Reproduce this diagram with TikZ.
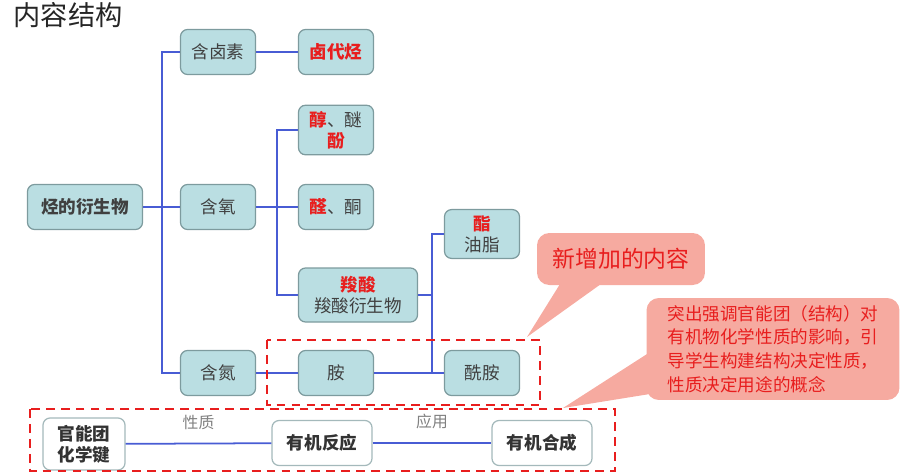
\documentclass[tikz,border=0pt]{standalone}
\usepackage{fontspec}
\setmainfont{Noto Sans CJK SC}
\usepackage{tikz}
\usetikzlibrary{positioning,calc}
\definecolor{boxTeal}  {RGB}{186, 222, 226}
\definecolor{boxEdge}  {RGB}{125, 155, 158}
\definecolor{linkBlue} {RGB}{ 72,  92, 212}
\definecolor{markRed}  {RGB}{232,  30,  30}
\definecolor{noteFill} {RGB}{246, 170, 160}
\newcommand{\hl}[1]{\textcolor{markRed}{\bfseries #1}}

\begin{document}
\begin{tikzpicture}[x=0.02cm,y=-0.02cm,
    catbox/.style={draw=boxEdge,fill=boxTeal,rounded corners=4pt,line width=0.7pt,
                   minimum width=1.5cm,minimum height=0.9cm,align=center,
                   font=\fontsize{10}{12}\selectfont,text=black!75},
    topicbox/.style={draw=boxEdge!70,fill=white,rounded corners=4pt,line width=0.7pt,
                   minimum width=2cm,minimum height=0.9cm,align=center,
                   font=\bfseries\fontsize{10}{12}\selectfont,text=black!80},
    link/.style={draw=linkBlue,line width=1.3pt},
    newpart/.style={draw=markRed,line width=1.1pt,dash pattern=on 5pt off 3.5pt},
    note/.style={fill=noteFill,rounded corners=7pt,text=markRed,align=left}]

  \useasboundingbox (0,0) rectangle (900,474);

  % Titel
  \node[font=\fontsize{15.5}{18}\selectfont,text=black!85] (title) at (68,15) {内容结构};

  % Klassen
  \node[catbox,minimum width=2.3cm,font=\bfseries\fontsize{10}{12}\selectfont] (root) at (85,207) {烃的衍生物};
  \node[catbox] (halo) at (218,52)  {含卤素};
  \node[catbox] (oxy)  at (218,207) {含氧};
  \node[catbox] (nitro) at (218,373) {含氮};

  \node[catbox] (haloalk) at (336,52)  {\hl{卤代烃}};
  \node[catbox] (alcohol) at (336,130) {\hl{醇}、醚\\\hl{酚}};
  \node[catbox] (aldehyde) at (336,207) {\hl{醛}、酮};
  \node[catbox,minimum width=2.38cm,minimum height=1.08cm] (acid) at (358,295) {\hl{羧酸}\\羧酸衍生物};
  \node[catbox] (ester) at (482,234) {\hl{酯}\\油脂};
  \node[catbox] (amine) at (336,373) {胺};
  \node[catbox] (amide) at (482,373) {酰胺};

  % Verbindungen
  \coordinate (forkA) at (162,207);
  \coordinate (forkB) at (277,207);
  \coordinate (forkC) at (432,295);
  \draw[link] (root.east) -- (oxy.west);
  \draw[link] (halo.west) -- (halo.west -| forkA) -- (nitro.west -| forkA) -- (nitro.west);
  \draw[link] (halo.east) -- (haloalk.west);
  \draw[link] (oxy.east) -- (aldehyde.west);
  \draw[link] (alcohol.west) -- (alcohol.west -| forkB) -- (acid.west -| forkB) -- (acid.west);
  \draw[link] (acid.east) -- (forkC);
  \draw[link] (ester.west) -- (ester.west -| forkC) -- (amide.west -| forkC) -- (amide.west);
  \draw[link] (nitro.east) -- (amine.west);
  \draw[link] (amine.east) -- (amide.west);

  % Zusammenhang
  \node[topicbox,minimum width=1.64cm,minimum height=1.04cm] (group) at (84,444) {官能团\\化学键};
  \node[topicbox] (reaction) at (322,443) {有机反应};
  \node[topicbox] (synthesis) at (542,443) {有机合成};
  \draw[link,line width=1pt] (group) -- node[above=4pt,text=black!50,font=\fontsize{9}{11}\selectfont] {性质} (reaction);
  \draw[link,line width=1pt] (reaction) -- node[above=4pt,text=black!50,font=\fontsize{9}{11}\selectfont] {应用} (synthesis);

  % neue Inhalte
  \draw[newpart] (267,340) rectangle (540,405);
  \draw[newpart] (30,409) rectangle (615,471);

  % Hinweise
  \node[note,minimum width=3.36cm,minimum height=1.04cm,align=center,
        font=\fontsize{13}{15}\selectfont] (newnote) at (621,259) {新增加的内容};
  \coordinate (tipA) at (527,337);
  \fill[noteFill] ($(newnote.south west)+(25,-4)$) -- (tipA) -- ($(newnote.south west)+(68,-4)$) -- cycle;

  \node[note,minimum width=5.06cm,minimum height=2.04cm,
        font=\fontsize{10}{13.5}\selectfont] (focusnote) at (773,349)
    {突出强调官能团（结构）对\\有机物化学性质的影响，引\\导学生构建结构决定性质，\\性质决定用途的概念};
  \coordinate (tipB) at (563,408);
  \fill[noteFill] ($(focusnote.west)+(4,3)$) -- (tipB) -- ($(focusnote.south west)+(14,-8)$) -- cycle;

\end{tikzpicture}
\end{document}
